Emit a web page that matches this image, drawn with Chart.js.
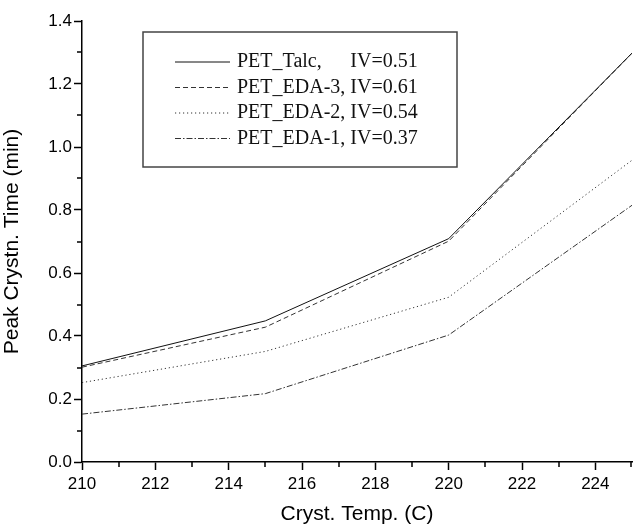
<!DOCTYPE html>
<html>
<head>
<meta charset="utf-8">
<script src="https://cdn.jsdelivr.net/npm/chart.js@4"></script>
<style>
  html, body { margin: 0; padding: 0; background: #fff; }
  #wrap { width: 633px; height: 530px; }
</style>
</head>
<body>
<div id="wrap"><canvas id="chart"></canvas></div>
<script>
const temps = [210, 215, 220, 225];
const talc = [0.305, 0.448, 0.709, 1.298];
const eda3 = [0.301, 0.428, 0.701, 1.298];
const eda2 = [0.252, 0.351, 0.523, 0.958];
const eda1 = [0.152, 0.217, 0.403, 0.815];
const names = ["PET_Talc,", "PET_EDA-3,", "PET_EDA-2,", "PET_EDA-1,"];
const ivs = ["IV=0.51", "IV=0.61", "IV=0.54", "IV=0.37"];
const xTicks = [210, 212, 214, 216, 218, 220, 222, 224];
const xMinor = [211, 213, 215, 217, 219, 221, 223, 225];
const yTicks = [0, 0.2, 0.4, 0.6, 0.8, 1.0, 1.2, 1.4];
const yMinor = [0.1, 0.3, 0.5, 0.7, 0.9, 1.1, 1.3];

const pts = (ys) => temps.map((t, i) => ({ x: t, y: ys[i] }));

// legend box drawn inside the plot, like the original figure
const boxLegend = {
  id: "boxLegend",
  afterDatasetsDraw(chart) {
    const { ctx, chartArea } = chart;
    const left = chartArea.left + 61, top = chartArea.top + 11;
    const w = 314, h = 135;
    ctx.save();
    ctx.strokeStyle = "#444";
    ctx.lineWidth = 1.5;
    ctx.strokeRect(left, top, w, h);
    ctx.font = "20px 'Liberation Serif', 'Times New Roman', serif";
    ctx.fillStyle = "#111";
    ctx.textBaseline = "middle";
    const textX = left + 94;
    const ivX = textX + ctx.measureText(names[1] + " ").width;
    chart.data.datasets.forEach((ds, i) => {
      const y = top + 30 + i * 25.5;
      ctx.beginPath();
      ctx.strokeStyle = ds.borderColor;
      ctx.lineWidth = 1;
      ctx.setLineDash(ds.borderDash || []);
      ctx.moveTo(left + 32, y);
      ctx.lineTo(left + 87, y);
      ctx.stroke();
      ctx.setLineDash([]);
      ctx.fillText(names[i], textX, y);
      ctx.fillText(ivs[i], ivX, y);
    });
    ctx.restore();
  }
};

// short minor ticks between the labelled ones
const minorTicks = {
  id: "minorTicks",
  afterDraw(chart) {
    const { ctx, scales } = chart;
    const x = scales.x, y = scales.y;
    ctx.save();
    ctx.strokeStyle = "#000";
    ctx.lineWidth = 1.5;
    ctx.beginPath();
    xMinor.forEach((v) => {
      const px = Math.min(Math.round(x.getPixelForValue(v)), x.right - 1);
      ctx.moveTo(px, y.bottom);
      ctx.lineTo(px, y.bottom + 5);
    });
    yMinor.forEach((v) => {
      const py = Math.round(y.getPixelForValue(v));
      ctx.moveTo(x.left, py);
      ctx.lineTo(x.left - 5, py);
    });
    ctx.stroke();
    ctx.restore();
  }
};

new Chart(document.getElementById("chart"), {
  type: "scatter",
  data: {
    datasets: [
      { label: names[0] + " " + ivs[0], data: pts(talc), borderColor: "#111", borderWidth: 1 },
      { label: names[1] + " " + ivs[1], data: pts(eda3), borderColor: "#333", borderWidth: 1, borderDash: [5, 3] },
      { label: names[2] + " " + ivs[2], data: pts(eda2), borderColor: "#333", borderWidth: 1, borderDash: [1.2, 2.8] },
      { label: names[3] + " " + ivs[3], data: pts(eda1), borderColor: "#333", borderWidth: 1, borderDash: [6, 2, 1.5, 2] }
    ].map(d => ({ ...d, showLine: true, pointRadius: 0, fill: false, tension: 0 }))
  },
  plugins: [boxLegend, minorTicks],
  options: {
    responsive: true,
    maintainAspectRatio: false,
    animation: false,
    layout: { padding: { top: 21, right: 1, left: 0, bottom: 0 } },
    plugins: { legend: { display: false }, tooltip: { enabled: false } },
    scales: {
      x: {
        type: "linear",
        min: 210,
        max: 225,
        afterFit: (s) => { s.height = 68; },
        afterBuildTicks: (s) => { s.ticks = xTicks.map((v) => ({ value: v })); },
        border: { display: true, color: "#000", width: 1.5 },
        grid: { display: true, drawOnChartArea: false, drawTicks: true, tickLength: 8, tickColor: "#000", tickWidth: 1.5 },
        ticks: {
          color: "#000",
          padding: 4,
          maxRotation: 0,
          autoSkip: false,
          font: { family: "'Liberation Sans', Arial, sans-serif", size: 17 }
        },
        title: {
          display: true,
          text: "Cryst. Temp. (C)",
          color: "#000",
          font: { family: "'Liberation Sans', Arial, sans-serif", size: 21 },
          padding: { top: 0, bottom: 3 }
        }
      },
      y: {
        min: 0,
        max: 1.4,
        afterFit: (s) => { s.width = 82; },
        afterBuildTicks: (s) => { s.ticks = yTicks.map((v) => ({ value: v })); },
        border: { display: true, color: "#000", width: 1.5 },
        grid: { display: true, drawOnChartArea: false, drawTicks: true, tickLength: 8, tickColor: "#000", tickWidth: 1.5 },
        ticks: {
          color: "#000",
          padding: 2,
          autoSkip: false,
          font: { family: "'Liberation Sans', Arial, sans-serif", size: 17 },
          callback: (v) => v.toFixed(1)
        },
        title: {
          display: true,
          text: "Peak Crystn. Time (min)",
          color: "#000",
          font: { family: "'Liberation Sans', Arial, sans-serif", size: 21 },
          padding: { top: 0, bottom: 0 }
        }
      }
    }
  }
});
</script>
</body>
</html>
